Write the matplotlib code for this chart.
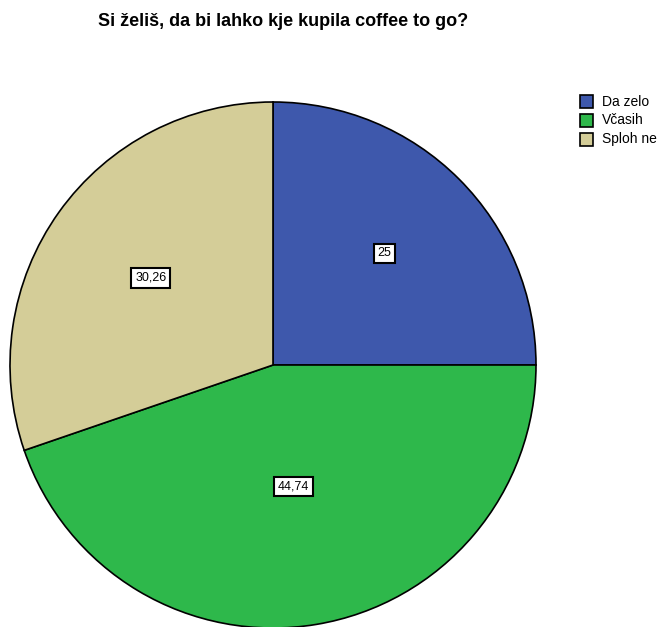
import numpy as np
import matplotlib
matplotlib.use("Agg")
import matplotlib.pyplot as plt
from matplotlib.patches import Rectangle

plt.rcParams['font.family'] = ['Liberation Sans', 'DejaVu Sans']

title = "Si želiš, da bi lahko kje kupila coffee to go?"
categories = ["Da zelo", "Včasih", "Sploh ne"]
values = [25.0, 44.74, 30.26]
labels = ["25", "44,74", "30,26"]
colors = ["#3e58ac", "#2eb84b", "#d4cd98"]

W, H = 665, 627
fig = plt.figure(figsize=(W / 100, H / 100), dpi=100)

# pie axes placed in pixel units: centre (273, 365), radius 263
cx, cy, r = 273, 365, 263
ax = fig.add_axes([(cx - r) / W, 1 - (cy + r) / H, 2 * r / W, 2 * r / H])
wedges, _ = ax.pie(values, colors=colors, startangle=90, counterclock=False,
                   radius=1.0,
                   wedgeprops=dict(edgecolor="black", linewidth=1.2))
ax.set_xlim(-1, 1)
ax.set_ylim(-1, 1)
ax.set_aspect("equal")
ax.axis("off")

# value boxes at each sector's centroid
for w, lab in zip(wedges, labels):
    t1, t2 = np.deg2rad(w.theta1), np.deg2rad(w.theta2)
    span = abs(t2 - t1)
    mid = (t1 + t2) / 2
    d = 4 * np.sin(span / 2) / (3 * span)
    ax.text(d * np.cos(mid), d * np.sin(mid), lab, ha="center", va="center",
            fontsize=9, color="black",
            bbox=dict(boxstyle="square,pad=0.3", facecolor="white",
                      edgecolor="black", linewidth=1.5))

fig.text(283 / W, 1 - 21 / H, title, ha="center", va="center",
         fontsize=13, fontweight="bold")

# legend
for i, (cat, col) in enumerate(zip(categories, colors)):
    y = 101.5 + i * 19
    fig.add_artist(Rectangle((580 / W, 1 - (y + 6.5) / H), 13 / W, 13 / H,
                             transform=fig.transFigure, facecolor=col,
                             edgecolor="black", linewidth=1.2))
    fig.text(602 / W, 1 - y / H, cat, ha="left", va="center", fontsize=10)

fig.savefig("out.png", dpi=100, facecolor="white")
